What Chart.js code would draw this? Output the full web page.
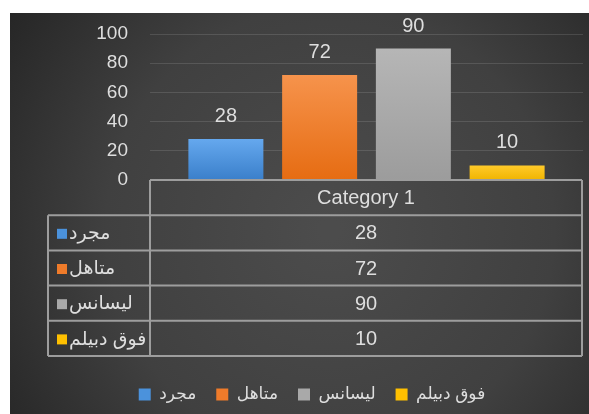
<!DOCTYPE html>
<html>
<head>
<meta charset="utf-8">
<script src="https://cdn.jsdelivr.net/npm/chart.js@4.4.0/dist/chart.umd.min.js"></script>
<style>
  html, body { margin: 0; padding: 0; background: #fff; }
</style>
</head>
<body>
<canvas id="chart" width="589" height="414"></canvas>
<script>
// data
const categories = ["Category 1"];
const seriesNames = ["مجرد", "متاهل", "ليسانس", "فوق دبيلم"];
const seriesValues = [[28], [72], [90], [10]];
const yTicks = [0, 20, 40, 60, 80, 100];

// styles
const solidColors = ["#4b92dc", "#ef7b2a", "#a9a9a9", "#ffc000"];
const topColors = ["#65a8ee", "#f6934c", "#b6b6b6", "#ffca2a"];
const bottomColors = ["#3a7fca", "#e66c12", "#9c9c9c", "#f0b400"];
const textColor = "#dedede";
const lineColor = "#9d9d9d";
const fontFamily = "'Liberation Sans', Arial, 'DejaVu Sans', sans-serif";

function barFill(i) {
    return function (ctx) {
        const chart = ctx.chart;
        const y = chart.scales.y;
        if (!chart.chartArea || !y) return solidColors[i];
        const top = y.getPixelForValue(ctx.raw);
        const bottom = y.getPixelForValue(0);
        const g = chart.ctx.createLinearGradient(0, top, 0, bottom);
        g.addColorStop(0, topColors[i]);
        g.addColorStop(1, bottomColors[i]);
        return g;
    };
}

const background = {
    id: "background",
    beforeDraw(chart) {
        const ctx = chart.ctx;
        const w = chart.width, h = chart.height;
        ctx.save();
        ctx.fillStyle = "#ffffff";
        ctx.fillRect(0, 0, w, h);
        const g = ctx.createRadialGradient(330, 230, 10, 330, 230, 400);
        g.addColorStop(0, "#4c4c4c");
        g.addColorStop(0.55, "#404040");
        g.addColorStop(1, "#242424");
        ctx.fillStyle = g;
        ctx.fillRect(10, 13, w - 10, h - 13);
        ctx.restore();
    }
};

const barLabels = {
    id: "barLabels",
    afterDatasetsDraw(chart) {
        const ctx = chart.ctx;
        ctx.save();
        ctx.font = "20px " + fontFamily;
        ctx.fillStyle = textColor;
        ctx.textAlign = "center";
        ctx.textBaseline = "alphabetic";
        chart.data.datasets.forEach((d, i) => {
            const bar = chart.getDatasetMeta(i).data[0];
            ctx.fillText(String(d.data[0]), bar.x, bar.y - 17);
        });
        ctx.restore();
    }
};

const dataTable = {
    id: "dataTable",
    afterDatasetsDraw(chart) {
        const ctx = chart.ctx;
        const a = chart.chartArea;
        const top = a.bottom;
        const rowH = 35.2;
        const left = a.left - 102;
        const right = a.right - 1;
        const rows = seriesNames.length + 1;
        const bottom = top + rows * rowH;

        ctx.save();
        ctx.strokeStyle = lineColor;
        ctx.lineWidth = 2;
        ctx.beginPath();
        ctx.moveTo(a.left, top); ctx.lineTo(right, top);
        for (let r = 1; r <= rows; r++) {
            ctx.moveTo(left, top + r * rowH); ctx.lineTo(right, top + r * rowH);
        }
        ctx.moveTo(a.left, top); ctx.lineTo(a.left, bottom);
        ctx.moveTo(right, top); ctx.lineTo(right, bottom);
        ctx.moveTo(left, top + rowH); ctx.lineTo(left, bottom);
        ctx.stroke();

        const cx = (a.left + right) / 2;
        ctx.fillStyle = textColor;
        ctx.textBaseline = "middle";
        ctx.textAlign = "center";
        ctx.font = "20px " + fontFamily;
        ctx.fillText(categories[0], cx, top + rowH / 2 + 1);

        seriesNames.forEach((name, i) => {
            const y = top + (i + 1.5) * rowH + 1;
            ctx.textAlign = "center";
            ctx.font = "20px " + fontFamily;
            ctx.fillStyle = textColor;
            ctx.fillText(String(seriesValues[i][0]), cx, y);

            ctx.fillStyle = solidColors[i];
            ctx.fillRect(left + 9, y - 5, 10, 10);
            ctx.fillStyle = textColor;
            ctx.textAlign = "left";
            ctx.font = "19px " + fontFamily;
            ctx.fillText(name, left + 21, y);
        });
        ctx.restore();
    }
};

const chart = new Chart(document.getElementById("chart"), {
    type: "bar",
    data: {
        labels: categories,
        datasets: seriesNames.map((name, i) => ({
            label: name,
            data: seriesValues[i],
            backgroundColor: barFill(i),
            borderWidth: 0,
            categoryPercentage: 0.866,
            barPercentage: 0.8
        }))
    },
    options: {
        responsive: false,
        animation: false,
        devicePixelRatio: 1,
        layout: { padding: { top: 34, left: 41, right: 6, bottom: 1 } },
        plugins: {
            tooltip: { enabled: false },
            legend: {
                position: "bottom",
                labels: {
                    color: textColor,
                    font: { family: fontFamily, size: 17 },
                    boxWidth: 12,
                    boxHeight: 12,
                    padding: 20,
                    generateLabels(chart) {
                        return chart.data.datasets.map((d, i) => ({
                            text: d.label,
                            fillStyle: solidColors[i],
                            strokeStyle: solidColors[i],
                            lineWidth: 0,
                            fontColor: textColor,
                            hidden: false,
                            datasetIndex: i
                        }));
                    }
                }
            }
        },
        scales: {
            x: {
                grid: { display: false },
                border: { display: false },
                ticks: { display: false },
                afterFit(s) {
                    s.height = s.chart.height - 1 - s.chart.legend.height - 180;
                }
            },
            y: {
                min: 0,
                max: 100,
                afterBuildTicks(s) {
                    s.ticks = yTicks.map(v => ({ value: v }));
                },
                afterFit(s) { s.width = 109; },
                grid: { color: "rgba(255,255,255,0.12)", lineWidth: 1, drawTicks: false },
                border: { display: false },
                ticks: {
                    color: textColor,
                    padding: 22,
                    font: { family: fontFamily, size: 19 }
                }
            }
        }
    },
    plugins: [background, barLabels, dataTable]
});
</script>
</body>
</html>
